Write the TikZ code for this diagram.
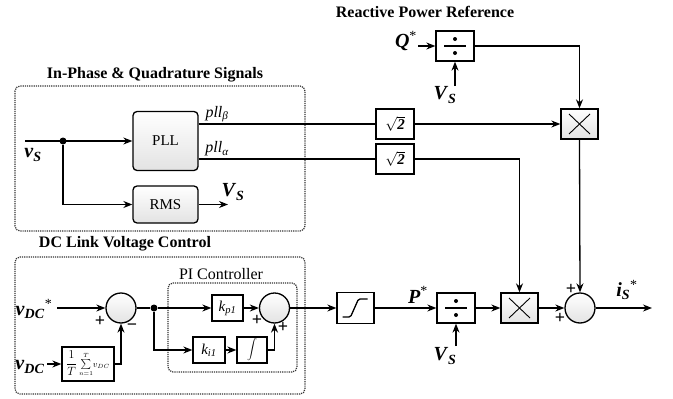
\documentclass[tikz,border=0pt]{standalone}
\usepackage{fontspec}
\setmainfont{Liberation Serif}
\usetikzlibrary{arrows.meta}
\newcommand{\bsig}[2]{\textbf{\textit{#1}}\textsubscript{\textbf{\textit{#2}}}}

\tikzset{
  blk/.style={draw,line width=1.3pt,fill=white,inner sep=0pt,minimum width=38pt,minimum height=30pt,font=\fontsize{15}{15}\selectfont},
  gblk/.style={blk,top color=white,bottom color=gray!22},
  rblk/.style={gblk,rounded corners=4pt},
  sumc/.style={circle,draw,line width=1.3pt,top color=white,bottom color=gray!22,minimum size=30pt,inner sep=0pt},
  jdot/.style={circle,fill,inner sep=0pt,minimum size=7pt},
  lbl/.style={font=\fontsize{20}{20}\selectfont,inner sep=0pt},
  plbl/.style={font=\itshape\fontsize{16}{16}\selectfont,inner sep=0pt},
  ttl/.style={font=\bfseries\fontsize{16}{16}\selectfont,inner sep=0pt},
  sgn/.style={font=\bfseries\fontsize{18}{18}\selectfont,inner sep=0pt},
  grp/.style={densely dotted,line width=1.2pt,rounded corners=5pt,draw=black!80},
  divsym/.style={path picture={
    \draw[black,line width=1.8pt] ([xshift=-11pt]path picture bounding box.center) -- ([xshift=11pt]path picture bounding box.center);
    \fill[black] ([yshift=7pt]path picture bounding box.center) circle (2pt);
    \fill[black] ([yshift=-7pt]path picture bounding box.center) circle (2pt);}},
  mulsym/.style={path picture={
    \draw[black,line width=0.9pt] ([shift={(8pt,-5pt)}]path picture bounding box.north west) -- ([shift={(-8pt,5pt)}]path picture bounding box.south east);
    \draw[black,line width=0.9pt] ([shift={(8pt,5pt)}]path picture bounding box.south west) -- ([shift={(-8pt,-5pt)}]path picture bounding box.north east);}},
  satsym/.style={path picture={
    \draw[black,line width=1.3pt,rounded corners=1.5pt] ([shift={(-13pt,-9pt)}]path picture bounding box.center) -- ([shift={(-5pt,-9pt)}]path picture bounding box.center)
      -- ([shift={(3pt,9pt)}]path picture bounding box.center) -- ([shift={(12pt,9pt)}]path picture bounding box.center);}}
}

\begin{document}
\begin{tikzpicture}[x=1pt,y=-1pt,>={Stealth[length=9pt,width=7pt]},line width=1.3pt]
  \useasboundingbox (0,0) rectangle (673,399);

  % titles and frames
  \node[ttl] (tRef) at (425,12) {Reactive Power Reference};
  \node[ttl] (tIQ) at (155,75) {In-Phase \& Quadrature Signals};
  \node[ttl] (tDC) at (125,244) {DC Link Voltage Control};
  \draw[grp] (15,86) rectangle (305,231);
  \draw[grp] (15,257) rectangle (305,394);
  \draw[grp] (168,283) rectangle (297,372);
  \node[font=\fontsize{16}{16}\selectfont,inner sep=0pt] (tPI) at (221,274) {PI Controller};

  % in-phase & quadrature signals
  \node[rblk,minimum width=65pt,minimum height=59pt] (pll) at (165.5,141) {PLL};
  \node[rblk,minimum width=65pt,minimum height=37pt] (rms) at (165.5,204.5) {RMS};
  \node[jdot] (jvs) at (63,141) {};
  \coordinate (vsin) at (25,141);
  \coordinate (vrmso) at (228,204.5);
  \node[lbl] (vs) at (33,155) {\bsig{v}{S}};
  \node[lbl] (Vrms) at (233,192) {\bsig{V}{S}};
  \node[plbl] (pb) at (217,114) {pll\textsubscript{β}};
  \node[plbl] (pa) at (217,149) {pll\textsubscript{α}};

  \draw[->] (vsin) -- (pll.west);
  \draw[->] (jvs) |- (rms.west);
  \draw[->] (rms.east) -- (vrmso);

  % reactive power reference
  \node[blk,divsym] (divQ) at (455,46) {};
  \node[lbl] (Qs) at (406,41) {\textbf{\textit{Q}}\textsuperscript{*}};
  \coordinate (qin) at (418,46);
  \coordinate (vsq) at (455,86);
  \node[lbl] (Vq) at (445,95) {\bsig{V}{S}};
  \draw[->] (qin) -- (divQ.west);
  \draw[->] (vsq) -- (divQ.south);

  \node[blk] (sqB) at (395,124) {$\sqrt{\hbox{\bfseries\itshape 2}}$};
  \node[blk] (sqA) at (395,159) {$\sqrt{\hbox{\bfseries\itshape 2}}$};
  \node[gblk,mulsym,minimum width=37pt] (mulA) at (579.5,124) {};

  \draw (pll.east |- sqB) -- (sqB.west);
  \draw (pll.east |- sqA) -- (sqA.west);
  \draw[->] (sqB.east) -- (mulA.west);
  \draw[->] (divQ.east) -| (mulA.north);

  % DC link voltage control
  \node[sumc] (sE) at (121,308) {};
  \node[jdot] (jE) at (154,308) {};
  \node[blk,minimum width=31pt,minimum height=26pt,font=\itshape\fontsize{15}{15}\selectfont] (kp) at (227.5,308) {k\textsubscript{p1}};
  \node[blk,minimum width=32pt,minimum height=26pt,font=\itshape\fontsize{15}{15}\selectfont] (ki) at (209,350) {k\textsubscript{i1}};
  \node[blk,minimum width=30pt,minimum height=26pt] (intg) at (252,350) {$\displaystyle\int$};
  \node[sumc] (sPI) at (274.5,308) {};
  \node[blk,minimum width=52pt,minimum height=34pt,font=\fontsize{12.5}{12.5}\selectfont] (avg) at (88,364) {$\displaystyle\frac{1}{T}\,{\scriptstyle\sum\limits_{n=1}^{T}}{\scriptstyle v_{DC}}$};
  \coordinate (vdcr) at (57,308);
  \coordinate (vdcm) at (47,364);
  \node[lbl] (vdcs) at (34,309) {\bsig{v}{DC}\textsuperscript{*}};
  \node[lbl] (vdc) at (30,367) {\bsig{v}{DC}};
  \node[sgn] (pE) at (100,321) {+};
  \node[sgn] (mE) at (132,327) {\textminus};
  \node[sgn] (pPa) at (257,320) {+};
  \node[sgn] (pPb) at (283,327) {+};

  \draw[->] (vdcr) -- (sE.west);
  \draw[->] (vdcm) -- (avg.west);
  \draw[->] (avg.east) -| (sE.south);
  \draw (sE.east) -- (jE);
  \draw[->] (jE) -- (kp.west);
  \draw[->] (jE) |- (ki.west);
  \draw[->] (ki) -- (intg);
  \draw[->] (intg.east) -| (sPI.south);
  \draw[->] (kp) -- (sPI);

  % active current path
  \node[blk,satsym,minimum width=37pt,minimum height=31pt] (sat) at (355.5,308) {};
  \node[blk,divsym] (divP) at (456,308) {};
  \node[gblk,mulsym,minimum width=37pt] (mulB) at (519.5,308) {};
  \node[sumc] (sO) at (580,308) {};
  \node[lbl] (Ps) at (418,295) {\textbf{\textit{P}}\textsuperscript{*}};
  \coordinate (vsp) at (456,346);
  \node[lbl] (Vp) at (445,356) {\bsig{V}{S}};
  \coordinate (iout) at (652,308);
  \node[lbl] (is) at (627,290) {\bsig{i}{S}\textsuperscript{*}};
  \node[sgn] (pOa) at (571,289) {+};
  \node[sgn] (pOb) at (560,318) {+};

  \draw[->] (sPI) -- (sat);
  \draw[->] (sat) -- (divP);
  \draw[->] (vsp) -- (divP.south);
  \draw[->] (divP) -- (mulB);
  \draw[->] (sqA.east) -| (mulB.north);
  \draw[->] (mulB) -- (sO);
  \draw[->] (mulA.south) -- (sO.north);
  \draw[->] (sO.east) -- (iout);
\end{tikzpicture}
\end{document}
